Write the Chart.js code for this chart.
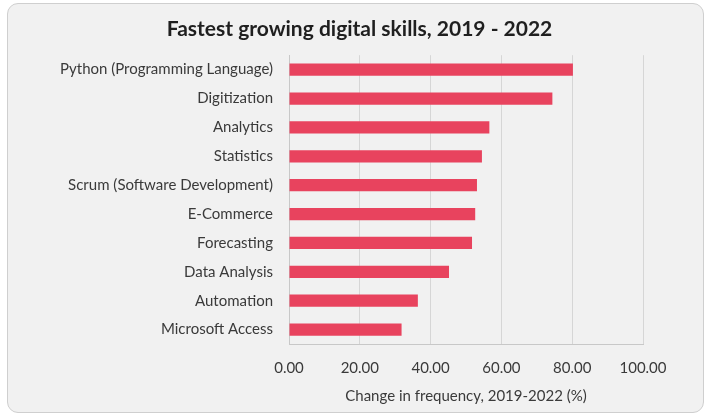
<!DOCTYPE html>
<html>
<head>
<meta charset="utf-8">
<script src="https://cdn.jsdelivr.net/npm/chart.js@4.4.1/dist/chart.umd.min.js"></script>
<style>
    html, body { margin: 0; padding: 0; background: #ffffff; }
    .marco {
        position: absolute;
        left: 7px; top: 3px;
        width: 695px; height: 408px;
        border: 1px solid #cfcfcf;
        border-radius: 11px;
        background: #f1f1f1;
    }
    canvas { display: block; }
</style>
</head>
<body>
<div class="marco">
    <canvas id="skillsChart" width="695" height="408"></canvas>
</div>

<script>

const habilidades = [
    "Python (Programming Language)",
    "Digitization",
    "Analytics",
    "Statistics",
    "Scrum (Software Development)",
    "E-Commerce",
    "Forecasting",
    "Data Analysis",
    "Automation",
    "Microsoft Access"
];

const crecimiento = [80.2, 74.4, 56.6, 54.5, 53.1, 52.6, 51.7, 45.2, 36.4, 31.8];

const ticksX = [0, 20, 40, 60, 80, 100];

const fuente = "Lato, 'Noto Sans', sans-serif";
const colorTexto = "#3a3a3a";

new Chart(
    document.getElementById("skillsChart"),
    {
        type: "bar",

        data: {
            labels: habilidades,
            datasets: [{
                label: "Change in frequency, 2019-2022 (%)",
                data: crecimiento,
                backgroundColor: "#e8435e",
                borderWidth: 0,
                barPercentage: 0.85,
                categoryPercentage: 0.5
            }]
        },

        options: {
            indexAxis: "y",
            responsive: false,
            animation: false,
            layout: {
                padding: { left: 8, right: 0, top: 0, bottom: 4 }
            },
            plugins: {
                legend: { display: false },
                tooltip: { enabled: false },
                title: {
                    display: true,
                    text: "Fastest growing digital skills, 2019 - 2022",
                    color: "#1f1f1f",
                    font: { family: fuente, size: 21, weight: "bold" },
                    padding: { top: 13, bottom: 13 }
                }
            },
            scales: {
                x: {
                    min: ticksX[0],
                    max: ticksX[ticksX.length - 1],
                    afterBuildTicks: s => { s.ticks = ticksX.map(v => ({ value: v })); },
                    afterFit: s => { s.height = 64; },
                    grid: { color: "#d6d6d6", drawTicks: false },
                    border: { color: "#c8c8c8" },
                    ticks: {
                        color: colorTexto,
                        padding: 15,
                        font: { family: fuente, size: 15 },
                        callback: v => v.toFixed(2)
                    },
                    title: {
                        display: true,
                        text: "Change in frequency, 2019-2022 (%)",
                        color: colorTexto,
                        font: { family: fuente, size: 15 },
                        padding: { top: 4, bottom: 3 }
                    }
                },
                y: {
                    afterFit: s => { s.width = 273; },
                    grid: { display: false, drawTicks: false },
                    border: { color: "#c8c8c8" },
                    ticks: {
                        color: colorTexto,
                        padding: 16,
                        font: { family: fuente, size: 15 }
                    }
                },
                // hueco a la derecha sin mover el titulo
                derecha: {
                    type: "category",
                    position: "right",
                    afterFit: s => { s.width = 60; },
                    grid: { display: false },
                    border: { display: false },
                    ticks: { display: false }
                }
            }
        }
    });

</script>
</body>
</html>
